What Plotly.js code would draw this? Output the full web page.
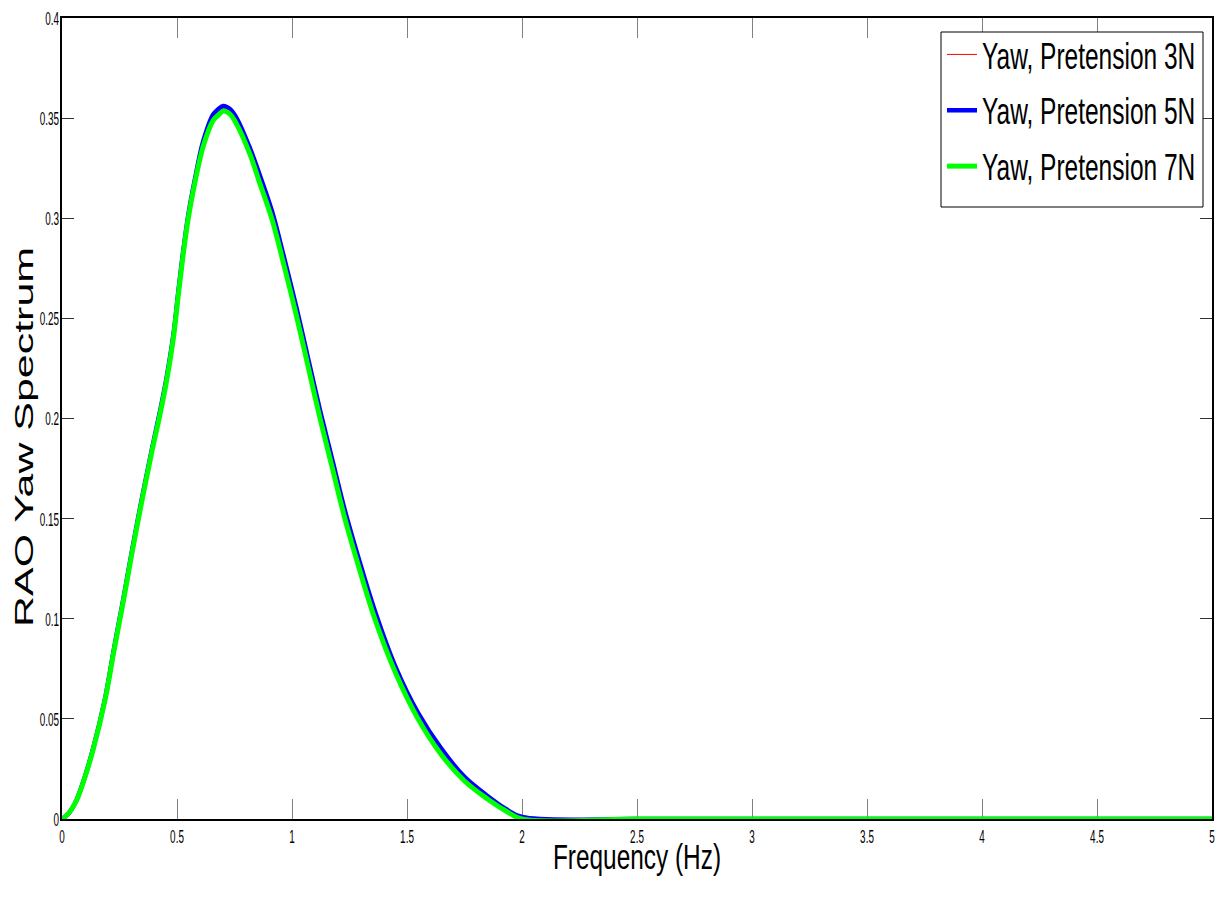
<!DOCTYPE html>
<html>
<head>
<meta charset="utf-8">
<script src="https://cdn.plot.ly/plotly-3.0.1.min.js"></script>
<style>
html,body{margin:0;padding:0;background:#fff;overflow:hidden;}
#chart{width:1224px;height:902px;}
</style>
</head>
<body>
<div id="chart"></div>
<script>
// Frequency (Hz)
const freq = [0, 0.03, 0.064, 0.1, 0.135, 0.187, 0.226, 0.267, 0.303, 0.346, 0.39, 0.426, 0.455, 0.484, 0.506, 0.527, 0.549, 0.578, 0.614, 0.658, 0.68, 0.701, 0.73, 0.759, 0.817, 0.86, 0.913, 0.962, 1.022, 1.07, 1.122, 1.176, 1.23, 1.29, 1.36, 1.45, 1.548, 1.65, 1.75, 1.85, 1.93, 2.0, 2.5, 3, 3.5, 4, 4.5, 5];
// RAO Yaw spectrum, pretension 3N
const yaw3N = [0, 0.003, 0.0096, 0.0212, 0.0348, 0.0598, 0.0845, 0.1095, 0.1328, 0.1588, 0.1838, 0.203, 0.220, 0.241, 0.263, 0.283, 0.301, 0.319, 0.338, 0.351, 0.3535, 0.355, 0.3535, 0.349, 0.334, 0.3205, 0.3025, 0.281, 0.253, 0.229, 0.203, 0.178, 0.153, 0.129, 0.103, 0.075, 0.052, 0.034, 0.020, 0.011, 0.0045, 0.0005, 0, 0, 0, 0, 0, 0];
// RAO Yaw spectrum, pretension 5N
const yaw5N = [0, 0.003, 0.0097, 0.0213, 0.035, 0.060, 0.085, 0.110, 0.1332, 0.1592, 0.1842, 0.2035, 0.2205, 0.2415, 0.2635, 0.2835, 0.3015, 0.3195, 0.3385, 0.352, 0.3545, 0.356, 0.3545, 0.350, 0.335, 0.3215, 0.3035, 0.282, 0.254, 0.230, 0.204, 0.179, 0.154, 0.130, 0.104, 0.076, 0.053, 0.035, 0.021, 0.0115, 0.005, 0.001, 0, 0, 0, 0, 0, 0];
// RAO Yaw spectrum, pretension 7N
const yaw7N = [0, 0.003, 0.0095, 0.021, 0.0345, 0.0594, 0.084, 0.109, 0.132, 0.158, 0.183, 0.202, 0.219, 0.240, 0.262, 0.282, 0.300, 0.318, 0.336, 0.349, 0.3515, 0.3535, 0.352, 0.347, 0.332, 0.3175, 0.2995, 0.278, 0.250, 0.226, 0.200, 0.175, 0.150, 0.126, 0.100, 0.073, 0.050, 0.032, 0.019, 0.010, 0.004, 0, 0, 0, 0, 0, 0, 0];

const seriesNames = ["Yaw, Pretension 3N", "Yaw, Pretension 5N", "Yaw, Pretension 7N"];
const xTicks = [0, 0.5, 1, 1.5, 2, 2.5, 3, 3.5, 4, 4.5, 5];
const xTickText = ["0", "0.5", "1", "1.5", "2", "2.5", "3", "3.5", "4", "4.5", "5"];
const yTicks = [0, 0.05, 0.1, 0.15, 0.2, 0.25, 0.3, 0.35, 0.4];
const yTickText = ["0", "0.05", "0.1", "0.15", "0.2", "0.25", "0.3", "0.35", "0.4"];

const FONT = "'Liberation Sans', Arial, sans-serif";
const TICK_SIZE = 11, LEG_SIZE = 24.5, XT_SIZE = 24.4, YT_SIZE = 26.5;

// plot geometry in pixels
const W = 1224, H = 902, ML = 62, MR = 12, MT = 18, MB = 83;
const PW = W - ML - MR, PH = H - MT - MB;
const px2paperX = p => (p - ML) / PW;
const px2paperY = p => (H - MB - p) / PH;

const traces = [
  {x: freq, y: yaw3N, name: seriesNames[0], legendgroup: "a", type: "scatter", mode: "lines",
   line: {color: "#ff0000", width: 1, shape: "spline", smoothing: 1}, cliponaxis: false},
  {x: freq, y: yaw5N, name: seriesNames[1], legendgroup: "b", type: "scatter", mode: "lines",
   line: {color: "#0000ff", width: 4.5, shape: "spline", smoothing: 1}, cliponaxis: false},
  {x: freq, y: yaw7N, name: seriesNames[2], legendgroup: "c", type: "scatter", mode: "lines",
   line: {color: "#00ff00", width: 5, shape: "spline", smoothing: 1}, cliponaxis: false}
];

const layout = {
  width: W, height: H,
  paper_bgcolor: "#fff", plot_bgcolor: "#fff",
  margin: {l: ML, r: MR, t: MT, b: MB, autoexpand: false},
  showlegend: true,
  legend: {
    x: px2paperX(942), xanchor: "left", y: px2paperY(32), yanchor: "top",
    bgcolor: "rgba(0,0,0,0)", borderwidth: 0,
    font: {family: FONT, size: LEG_SIZE, color: "#000"},
    tracegroupgap: 21, itemwidth: 30
  },
  shapes: [{
    type: "rect", xref: "paper", yref: "paper", layer: "above",
    x0: px2paperX(941), x1: px2paperX(1203), y0: px2paperY(207), y1: px2paperY(32),
    fillcolor: "#fff", line: {color: "#000", width: 1}
  }],
  xaxis: {
    range: [0, 5], tickvals: xTicks, ticktext: xTickText,
    showgrid: false, zeroline: false,
    showline: true, linecolor: "#000", linewidth: 2, mirror: "ticks",
    ticks: "inside", ticklen: 20, tickcolor: "#808080", tickwidth: 1,
    tickfont: {family: FONT, size: TICK_SIZE, color: "#000"},
    layer: "below traces",
    title: {text: "Frequency (Hz)", font: {family: FONT, size: XT_SIZE, color: "#000"}, standoff: 8}
  },
  yaxis: {
    range: [0, 0.4], tickvals: yTicks, ticktext: yTickText,
    showgrid: false, zeroline: false,
    showline: true, linecolor: "#000", linewidth: 2, mirror: "ticks",
    ticks: "inside", ticklen: 12, tickcolor: "#333", tickwidth: 1,
    tickfont: {family: FONT, size: TICK_SIZE, color: "#000"},
    layer: "below traces",
    title: {text: "RAO Yaw Spectrum", font: {family: FONT, size: YT_SIZE, color: "#000"}, standoff: 4}
  }
};

const DESC = 0.212;
function scaleAbout(el, sx, sy, ax, ay) {
  const t0 = el.getAttribute("transform") || "";
  el.setAttribute("transform", `${t0} translate(${ax},${ay}) scale(${sx},${sy}) translate(${-ax},${-ay})`);
}
function shift(el, dx, dy) {
  el.setAttribute("transform", `translate(${dx},${dy}) ${el.getAttribute("transform") || ""}`);
}
function place(el, sx, sy, size, align, tx, tBase) {
  const bb = el.getBBox();
  scaleAbout(el, sx, sy, bb.x + bb.width / 2, bb.y + bb.height / 2);
  const r = el.getBoundingClientRect();
  const base = r.bottom - DESC * size * sy;
  const cur = align === "left" ? r.left : align === "right" ? r.right : (r.left + r.right) / 2;
  shift(el, tx - cur, tBase - base);
}

Plotly.newPlot("chart", traces, layout, {displayModeBar: false, responsive: false}).then(gd => {
  const capH = 0.716 * TICK_SIZE * 1.7;
  gd.querySelectorAll(".xtick text").forEach(el => {
    const v = parseFloat(el.textContent);
    place(el, 0.9, 1.7, TICK_SIZE, "center", ML + v / 5 * PW, 843);
  });
  gd.querySelectorAll(".ytick text").forEach(el => {
    const v = parseFloat(el.textContent);
    const py = MT + (0.4 - v) / 0.4 * PH;
    place(el, 0.9, 1.7, TICK_SIZE, "right", 59, py + capH / 2);
  });
  const xt = gd.querySelector(".xtitle");
  if (xt) place(xt, 1, 1.45, XT_SIZE, "center", 637, 868);
  const yt = gd.querySelector(".ytitle");
  if (yt) {
    const bb = yt.getBBox();
    scaleAbout(yt, 1.62, 1.0, bb.x + bb.width / 2, bb.y + bb.height / 2);
    const r = yt.getBoundingClientRect();
    const baseX = r.right - DESC * YT_SIZE;
    shift(yt, 33 - baseX, 437 - (r.top + r.bottom) / 2);
  }
  gd.querySelectorAll(".legendtext").forEach(el => {
    const bb = el.getBBox();
    scaleAbout(el, 1, 1.54, bb.x, bb.y + bb.height / 2);
  });
});
</script>
</body>
</html>
